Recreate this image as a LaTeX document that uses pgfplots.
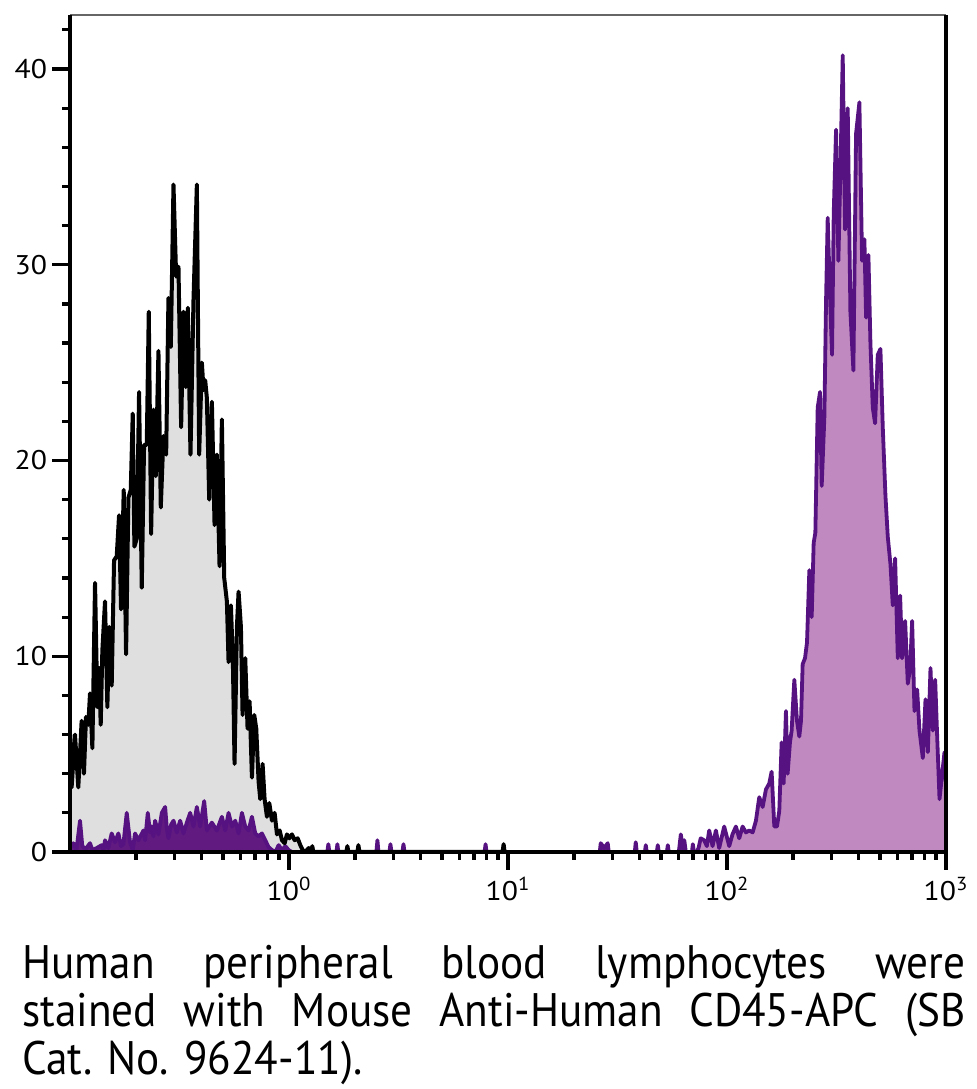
\documentclass[border=0pt]{standalone}
\usepackage{fontspec}
\setmainfont{PT Sans}
\usepackage{pgfplots}
\usepackage{pgfplotstable}
\pgfplotsset{compat=1.18}
\definecolor{grayfill}{RGB}{223,223,223}
\definecolor{purpleline}{RGB}{86,18,128}
\definecolor{purplefill}{RGB}{192,138,192}
\definecolor{purpledark}{RGB}{96,26,128}
\newfontfamily\capfont[FakeStretch=0.92]{PT Sans}
\newfontfamily\tickfont[FakeStretch=1.1]{PT Sans}

% column 0: log10 of fluorescence intensity, column 1: count
\pgfplotstableread{
e v
-1.0000 6.0
-0.9924 3.3
-0.9771 6.0
-0.9619 3.3
-0.9466 6.7
-0.9360 4.0
-0.9268 6.9
-0.9162 6.5
-0.9086 8.1
-0.8979 5.3
-0.8857 13.75
-0.8750 7.4
-0.8674 9.4
-0.8598 6.5
-0.8522 10.3
-0.8400 12.8
-0.8293 7.4
-0.8202 11.5
-0.8095 8.5
-0.7988 14.9
-0.7866 15.1
-0.7760 17.2
-0.7668 12.4
-0.7546 18.5
-0.7439 10.1
-0.7333 18.1
-0.7226 18.5
-0.7134 22.4
-0.7059 15.6
-0.6952 16.0
-0.6845 23.5
-0.6723 13.5
-0.6616 20.8
-0.6494 20.8
-0.6403 27.6
-0.6296 16.25
-0.6190 22.6
-0.6083 19.2
-0.5961 25.6
-0.5854 17.6
-0.5733 21.25
-0.5610 20.3
-0.5504 28.3
-0.5397 25.8
-0.5275 34.1
-0.5153 29.4
-0.5047 29.9
-0.4925 21.7
-0.4818 27.6
-0.4711 23.75
-0.4620 27.8
-0.4498 20.3
-0.4361 28.2
-0.4208 34.1
-0.4102 20.3
-0.3979 25.0
-0.3903 23.6
-0.3827 24.1
-0.3751 23.2
-0.3644 18.0
-0.3522 23.0
-0.3400 16.7
-0.3294 20.3
-0.3172 14.6
-0.3065 22.1
-0.2958 14.0
-0.2836 12.8
-0.2760 9.7
-0.2653 12.6
-0.2562 9.7
-0.2486 4.5
-0.2379 11.5
-0.2303 13.3
-0.2196 11.5
-0.2120 7.0
-0.1998 9.9
-0.1892 6.3
-0.1800 7.7
-0.1693 3.8
-0.1587 7.0
-0.1495 6.3
-0.1389 3.6
-0.1312 2.7
-0.1206 4.5
-0.1114 2.7
-0.1007 1.8
-0.0901 2.5
-0.0779 1.6
-0.0657 2.0
-0.0550 0.9
-0.0428 1.1
-0.0321 0.6
-0.0200 0.45
-0.0093 0.9
0.0014 0.7
0.0136 0.9
0.0257 0.6
0.0395 0.7
0.0517 0.35
0.0623 0.1
0.0745 0
0.0898 0.2
0.1020 0
0.1065 0.3
0.1110 0
0.2620 0
0.2666 0.3
0.2710 0
0.3125 0
0.3169 0.35
0.3215 0
0.9755 0
0.9799 0.4
0.9845 0
}\isotype

\pgfplotstableread{
e v
-1.0000 0.2
-0.9848 0.45
-0.9704 0.1
-0.9542 1.6
-0.9436 0.3
-0.9283 0.15
-0.9086 0.45
-0.8979 0.1
-0.8782 0.2
-0.8553 0.35
-0.8477 0.05
-0.8400 0.6
-0.8248 0.2
-0.8095 0.95
-0.7943 0.5
-0.7790 0.95
-0.7668 0.3
-0.7561 0.4
-0.7409 2.0
-0.7257 0.5
-0.7134 0.1
-0.7028 0.95
-0.6875 0.6
-0.6647 1.1
-0.6570 0.6
-0.6448 2.0
-0.6342 1.0
-0.6266 1.3
-0.6190 0.8
-0.6113 1.6
-0.5961 0.9
-0.5808 2.0
-0.5656 2.3
-0.5580 1.2
-0.5504 0.7
-0.5382 1.4
-0.5275 1.6
-0.5122 1.0
-0.4970 1.6
-0.4818 0.95
-0.4665 1.5
-0.4513 2.0
-0.4361 1.3
-0.4208 2.3
-0.4056 1.3
-0.3873 2.6
-0.3751 1.1
-0.3522 1.5
-0.3294 1.1
-0.3065 1.8
-0.2913 1.1
-0.2760 2.0
-0.2608 1.3
-0.2455 1.6
-0.2303 0.95
-0.2150 2.0
-0.1998 1.3
-0.1846 1.1
-0.1693 1.8
-0.1541 0.95
-0.1388 0.8
-0.1236 0.95
-0.1083 0.6
-0.0931 0.25
-0.0778 0.1
-0.0626 0.0
-0.0473 0.35
-0.0321 0.1
-0.0169 0.3
-0.0016 0.1
0.0137 0
0.1750 0
0.1797 0.4
0.1845 0
0.2165 0
0.2209 0.4
0.2255 0
0.3990 0
0.4038 0.6
0.4085 0
0.4585 0
0.4632 0.4
0.4680 0
0.5180 0
0.5227 0.4
0.5275 0
0.8930 0
0.8976 0.4
0.9020 0
1.4190 0
1.4234 0.45
1.4394 0.2
1.4554 0.45
1.4600 0
1.5790 0
1.5834 0.5
1.5880 0
1.6250 0
1.6292 0.35
1.6335 0
1.6795 0
1.6840 0.35
1.6885 0
1.7255 0
1.7298 0.35
1.7340 0
1.7800 0
1.7892 0.9
1.7980 0.2
1.8050 0.6
1.8120 0
1.8400 0
1.8441 0.4
1.8490 0
}\stainedlow

\pgfplotstableread{
e v
1.8600 0
1.8700 0.2
1.8800 0.7
1.8958 0.6
1.9080 0.3
1.9187 1.1
1.9341 0.3
1.9493 1.1
1.9643 0.2
1.9872 1.3
2.0101 0.3
2.0250 0.9
2.0407 1.3
2.0558 0.7
2.0713 1.3
2.0864 1.0
2.1015 1.1
2.1171 1.0
2.1322 1.6
2.1473 2.8
2.1628 2.3
2.1779 3.2
2.1931 3.5
2.2038 4.1
2.2160 1.3
2.2282 1.3
2.2388 2.1
2.2495 5.6
2.2587 3.5
2.2693 7.2
2.2769 4.0
2.2876 5.6
2.2952 6.2
2.3074 8.8
2.3196 6.7
2.3302 5.9
2.3379 6.7
2.3455 9.6
2.3562 9.9
2.3653 10.7
2.3760 14.4
2.3867 12.0
2.3958 15.8
2.4034 16.3
2.4141 22.7
2.4248 23.5
2.4324 18.7
2.4446 22.2
2.4522 28.1
2.4598 32.4
2.4705 28.4
2.4796 25.4
2.4873 32.6
2.4980 36.9
2.5086 30.2
2.5178 34.8
2.5285 40.7
2.5391 31.8
2.5513 38.0
2.5635 27.6
2.5772 24.6
2.5894 36.7
2.6046 38.3
2.6168 30.2
2.6275 31.3
2.6351 27.3
2.6458 30.5
2.6549 26.0
2.6656 22.7
2.6762 21.9
2.6884 25.4
2.7006 25.7
2.7113 21.7
2.7235 18.2
2.7342 16.1
2.7464 14.7
2.7570 12.6
2.7677 15.0
2.7799 9.9
2.7906 13.1
2.7997 9.9
2.8134 11.8
2.8256 8.6
2.8363 9.4
2.8454 11.8
2.8561 7.2
2.8683 8.3
2.8790 6.2
2.8942 4.8
2.9064 7.8
2.9171 5.1
2.9292 9.4
2.9399 6.2
2.9506 8.8
2.9597 5.9
2.9704 2.7
2.9826 4.0
2.9932 5.1
3.0000 3.5
}\stainedhigh

\begin{document}
\begin{tikzpicture}
\path[use as bounding box] (0,0) rectangle (488.5pt,544.5pt);
\begin{semilogxaxis}[
  at={(35pt,118.5pt)}, anchor=south west,
  scale only axis, width=438pt, height=418.5pt,
  xmin=0.1, xmax=1000, ymin=0, ymax=42.76,
  xtick={1,10,100,1000},
  xticklabels={10\textsuperscript{0},10\textsuperscript{1},10\textsuperscript{2},10\textsuperscript{3}},
  minor xtick={0.2,0.3,0.4,0.5,0.6,0.7,0.8,0.9,2,3,4,5,6,7,8,9,20,30,40,50,60,70,80,90,200,300,400,500,600,700,800,900},
  ytick={0,10,20,30,40},
  yticklabels={0,10,20,30,40},
  minor ytick={2,4,6,8,12,14,16,18,22,24,26,28,32,34,36,38,42},
  tick pos=left, tick align=outside,
  major tick length=9pt, minor tick length=4pt,
  tick style={black, line width=1.6pt},
  axis line style={draw=none},
  tick label style={font=\tickfont\fontsize{13.5}{15}\selectfont},
  yticklabel style={xshift=1pt},
  clip mode=individual,
]
\addplot[fill=grayfill, draw=none] table[x expr={10^(\thisrowno{0})}, y index=1] {\isotype} \closedcycle;
\addplot[fill=purpledark, draw=none] table[x expr={10^(\thisrowno{0})}, y index=1] {\stainedlow} \closedcycle;
\addplot[fill=purplefill, draw=none] table[x expr={10^(\thisrowno{0})}, y index=1] {\stainedhigh} \closedcycle;
\addplot[purpleline, line width=1.9pt, line join=round] table[x expr={10^(\thisrowno{0})}, y index=1] {\stainedlow};
\addplot[purpleline, line width=1.9pt, line join=round] table[x expr={10^(\thisrowno{0})}, y index=1] {\stainedhigh};
\addplot[black, line width=2pt, line join=round] table[x expr={10^(\thisrowno{0})}, y index=1] {\isotype};
\draw[line width=0.8pt, black!60] (rel axis cs:0,1) -- (rel axis cs:1,1);
\draw[line width=2pt, black] (rel axis cs:0,1) -- (rel axis cs:0,0) -- (rel axis cs:1,0) -- (rel axis cs:1,1);
\end{semilogxaxis}
\node[anchor=base west, inner sep=0pt, font=\capfont\fontsize{23.5}{24.5}\selectfont] at (11pt,55.5pt) {\makebox[471.5pt][s]{Human peripheral blood lymphocytes were}};
\node[anchor=base west, inner sep=0pt, font=\capfont\fontsize{23.5}{24.5}\selectfont] at (11pt,31pt) {\makebox[471.5pt][s]{stained with Mouse Anti-Human CD45-APC (SB}};
\node[anchor=base west, inner sep=0pt, font=\capfont\fontsize{23.5}{24.5}\selectfont] at (11pt,7pt) {Cat. No. 9624-11).};
\end{tikzpicture}
\end{document}
